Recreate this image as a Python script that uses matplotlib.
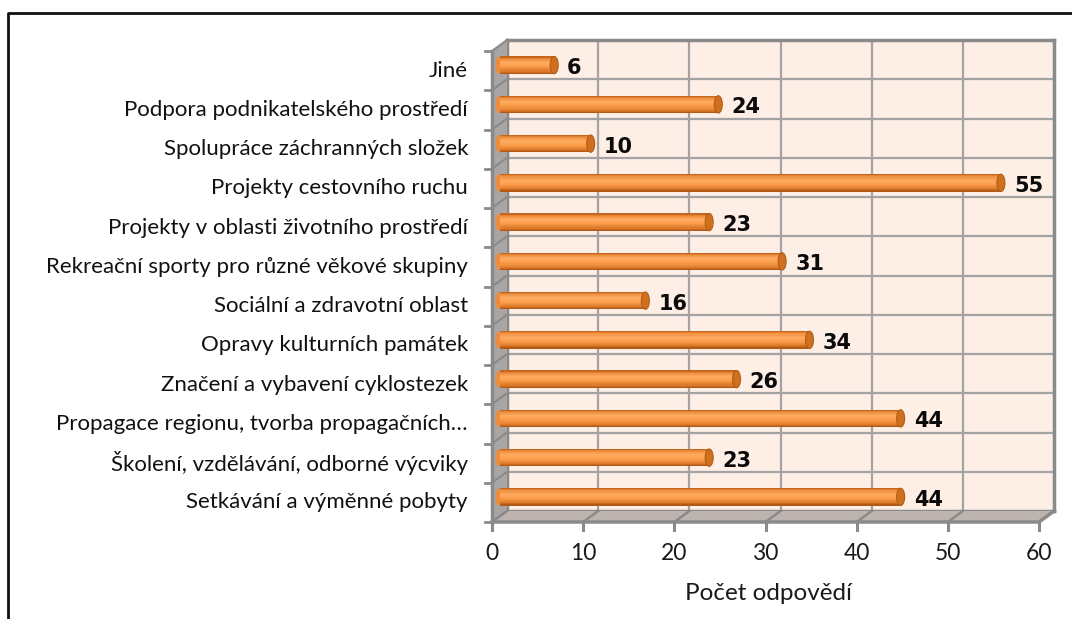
import matplotlib
matplotlib.use("Agg")
import matplotlib.pyplot as plt
import matplotlib.transforms as mtrans
from matplotlib.patches import Polygon, Ellipse
from matplotlib.lines import Line2D
from matplotlib.colors import to_rgb
import numpy as np

categories = [
    "Jiné",
    "Podpora podnikatelského prostředí",
    "Spolupráce záchranných složek",
    "Projekty cestovního ruchu",
    "Projekty v oblasti životního prostředí",
    "Rekreační sporty pro různé věkové skupiny",
    "Sociální a zdravotní oblast",
    "Opravy kulturních památek",
    "Značení a vybavení cyklostezek",
    "Propagace regionu, tvorba propagačních…",
    "Školení, vzdělávání, odborné výcviky",
    "Setkávání a výměnné pobyty",
]
values = [6, 24, 10, 55, 23, 31, 16, 34, 26, 44, 23, 44]
xticks = [0, 10, 20, 30, 40, 50, 60]
xlabel = "Počet odpovědí"

FONT = ["Lato", "DejaVu Sans"]
VFONT = ["DejaVu Sans"]
plt.rcParams["font.family"] = FONT

W, H = 1072, 619
fig = plt.figure(figsize=(W / 100, H / 100), dpi=100)
fig.patch.set_facecolor("white")

# back wall in pixel coords
bx0, bx1, by0, by1 = 507, 1054, 40, 511
ax = fig.add_axes([bx0 / W, 1 - by1 / H, (bx1 - bx0) / W, (by1 - by0) / H])
n = len(categories)
ax.set_xlim(0, 60)
ax.set_ylim(-0.5, n - 0.5)
ax.set_facecolor("#FDEEE6")
for s in ax.spines.values():
    s.set_color("#8A8A8A")
    s.set_linewidth(2.5)
    s.set_zorder(1.2)
ax.set_xticks([])
ax.set_yticks([])

ID = mtrans.IdentityTransform()
DX, DY = -15, -11  # depth offset (display px)

# gridlines on back wall
for xv in xticks[1:-1]:
    ax.axvline(xv, color="#A3A3A3", lw=1.6, zorder=1)
for k in range(1, n):
    ax.axhline(k - 0.5, color="#A3A3A3", lw=1.6, zorder=1)

def disp(x, y):
    return ax.transData.transform((x, y))

def addline(xs, ys, color, lw, z):
    ax.add_line(Line2D(xs, ys, transform=ID, color=color, lw=lw, zorder=z, clip_on=False))

# left side wall
p_top = disp(0, n - 0.5)
p_bot = disp(0, -0.5)
ax.add_patch(Polygon([p_top, p_bot, p_bot + (DX, DY), p_top + (DX, DY)], closed=True,
                     transform=ID, facecolor="#A8A5A4", edgecolor="none", zorder=1.3,
                     clip_on=False))
# floor
f0 = disp(0, -0.5)
f1 = disp(60, -0.5)
ax.add_patch(Polygon([f0, f1, f1 + (DX, DY), f0 + (DX, DY)], closed=True,
                     transform=ID, facecolor="#BDB3AF", edgecolor="none", zorder=1.3,
                     clip_on=False))
addline([f0[0] + DX, f1[0] + DX, f1[0]], [f0[1] + DY, f1[1] + DY, f1[1]], "#8A8A8A", 2.5, 2)
addline([p_top[0] + DX, p_bot[0] + DX], [p_top[1] + DY, p_bot[1] + DY], "#8A8A8A", 2.5, 2)

# floor grid + bottom ticks + labels
for xv in xticks:
    b = disp(xv, -0.5)
    fr = b + (DX, DY)
    addline([b[0], fr[0]], [b[1], fr[1]], "#8A8A8A", 1.8, 1.5)
    addline([fr[0], fr[0]], [fr[1], fr[1] - 8], "#8A8A8A", 2.2, 2)
    fig.text(fr[0] / W, (fr[1] - 31) / H, str(xv), ha="center", va="center",
             fontsize=16.5, color="#1A1A1A", family=FONT)

# left ticks + side wall diagonals
for k in range(n + 1):
    b = disp(0, k - 0.5)
    fr = b + (DX, DY)
    addline([b[0], fr[0]], [b[1], fr[1]], "#8A8A8A", 1.5, 1.5)
    addline([fr[0] - 7, fr[0]], [fr[1], fr[1]], "#8A8A8A", 2.0, 2)

# category labels at front row centres
for i, cat in enumerate(categories):
    yd = n - 1 - i
    c = disp(0, yd) + (DX, DY)
    fig.text(468 / W, c[1] / H, cat, ha="right", va="center", fontsize=16,
             color="#111111", family=FONT)

# bars (cylinders) at mid-depth
off = mtrans.offset_copy(ax.transData, fig=fig, x=DX / 2, y=DY / 2, units="dots")
bh = 0.44
stops = [(0.0, "#B85A12"), (0.12, "#EC8C3C"), (0.35, "#FFAC62"), (0.6, "#FA9C48"),
         (0.85, "#DC7A2C"), (1.0, "#A9500E")]
def grad(t):
    for (t0, c0), (t1, c1) in zip(stops[:-1], stops[1:]):
        if t0 <= t <= t1:
            f = (t - t0) / (t1 - t0)
            a, b = np.array(to_rgb(c0)), np.array(to_rgb(c1))
            return tuple(a + (b - a) * f)
    return to_rgb(stops[-1][1])

nb = 16
cap_w = 8 / ((bx1 - bx0) / 60)
ypos = [n - 1 - i for i in range(n)]
for yd, v in zip(ypos, values):
    ax.add_patch(Ellipse((0, yd), cap_w, bh, facecolor="#EC8C3C", edgecolor="none",
                         transform=off, zorder=3, clip_on=False))
    for j in range(nb):
        t = (j + 0.5) / nb
        yc = yd + bh / 2 - (j + 0.5) * bh / nb
        bars = ax.barh(yc, v, height=bh / nb + 0.002, left=0, color=grad(t), edgecolor="none",
                       transform=off, zorder=3.1)
        for p in bars:
            p.set_clip_on(False)
    ax.add_patch(Ellipse((v, yd), cap_w, bh, facecolor="#D0701F", edgecolor="#B45C14",
                         lw=0.8, transform=off, zorder=3.2, clip_on=False))
    ax.text(v, yd, str(v), transform=mtrans.offset_copy(off, fig=fig, x=13, y=-3, units="dots"),
            ha="left", va="center", fontsize=15, fontweight="bold", color="#0A0A0A",
            family=VFONT, zorder=4, clip_on=False)

# x label
fig.text(768 / W, 1 - 593 / H, xlabel, ha="center", va="center", fontsize=17.5,
         color="#1A1A1A", family=FONT)

# outer frame (left and top edges visible)
fig.add_artist(Line2D([8, 8, W + 20], [-20, H - 13, H - 13], transform=ID,
                      color="#111111", lw=2.0, zorder=5))

fig.savefig("out.png", dpi=100)
